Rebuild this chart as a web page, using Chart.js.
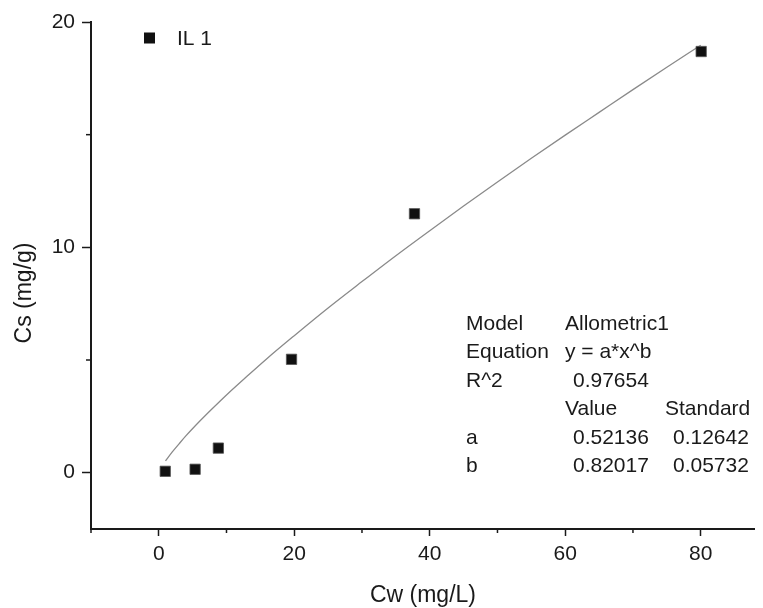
<!DOCTYPE html>
<html>
<head>
<meta charset="utf-8">
<script src="https://cdn.jsdelivr.net/npm/chart.js@4.4.1/dist/chart.umd.min.js"></script>
<style>
  html, body { margin: 0; padding: 0; background: #fff; }
  #wrap { position: relative; width: 763px; height: 608px; font-family: Arial, "Liberation Sans", sans-serif; color: #1a1a1a; }
  #fitTable { position: absolute; left: 0; top: 0; font-size: 21px; }
  #fitTable span { position: absolute; white-space: nowrap; line-height: 28px; }
</style>
</head>
<body>
<div id="wrap">
  <canvas id="chart" width="763" height="608"></canvas>
  <div id="fitTable"></div>
</div>
<script>
// measured points (Cw, Cs)
const cwData = [0.96, 5.37, 8.8, 19.6, 37.75, 80.07];
const csData = [0.06, 0.15, 1.09, 5.03, 11.49, 18.69];

// fitted curve
const fitX = [1, 2, 3, 4, 6, 8, 10, 13, 16, 20, 25, 30, 35, 40, 45, 50, 55, 60, 65, 70, 75, 80];
const fitY = [0.52, 0.92, 1.28, 1.63, 2.27, 2.87, 3.45, 4.27, 5.07, 6.08, 7.31, 8.48, 9.63, 10.74, 11.83, 12.9, 13.95, 14.98, 15.99, 17.0, 17.99, 18.97];

const seriesLabel = 'IL 1';
const xMinorTicks = [-10, 10, 30, 50, 70];
const yMinorTicks = [5, 15];

const tableRows = [
  ['Model', 'Allometric1', ''],
  ['Equation', 'y = a*x^b', ''],
  ['R^2', ' 0.97654', ''],
  ['', 'Value', 'Standard'],
  ['a', ' 0.52136', ' 0.12642'],
  ['b', ' 0.82017', ' 0.05732']
];

const ink = '#1a1a1a';
const fontFamily = 'Arial, "Liberation Sans", sans-serif';

// table as positioned text
const table = document.getElementById('fitTable');
const colLeft = [466, 565, 665];
tableRows.forEach((row, i) => {
  row.forEach((txt, j) => {
    if (!txt) return;
    const s = document.createElement('span');
    s.textContent = txt.trim();
    let left = colLeft[j];
    if (txt.startsWith(' ')) left += 8;
    s.style.left = left + 'px';
    s.style.top = (309 + i * 28.4) + 'px';
    table.appendChild(s);
  });
});

const extras = {
  id: 'extras',
  afterDraw(chart) {
    const ctx = chart.ctx;
    const xs = chart.scales.x, ys = chart.scales.y;
    const area = chart.chartArea;
    ctx.save();
    ctx.strokeStyle = ink;
    ctx.lineWidth = 1.5;
    // minor ticks
    xMinorTicks.forEach(v => {
      const px = xs.getPixelForValue(v);
      ctx.beginPath();
      ctx.moveTo(px, area.bottom);
      ctx.lineTo(px, area.bottom + 4);
      ctx.stroke();
    });
    yMinorTicks.forEach(v => {
      const py = ys.getPixelForValue(v);
      ctx.beginPath();
      ctx.moveTo(area.left, py);
      ctx.lineTo(area.left - 5, py);
      ctx.stroke();
    });
    // axis titles
    ctx.fillStyle = ink;
    ctx.font = '23px ' + fontFamily;
    ctx.textAlign = 'center';
    ctx.textBaseline = 'middle';
    ctx.fillText('Cw (mg/L)', (area.left + area.right) / 2, 596);
    ctx.translate(25, 293);
    ctx.rotate(-Math.PI / 2);
    ctx.fillText('Cs (mg/g)', 0, 0);
    ctx.restore();

    // legend
    ctx.save();
    ctx.fillStyle = '#111';
    ctx.fillRect(144, 32.5, 11, 11);
    ctx.fillStyle = ink;
    ctx.font = '21px ' + fontFamily;
    ctx.textAlign = 'left';
    ctx.textBaseline = 'middle';
    ctx.fillText(seriesLabel, 177, 39);
    ctx.restore();
  }
};

new Chart(document.getElementById('chart'), {
  type: 'scatter',
  data: {
    datasets: [
      {
        label: seriesLabel,
        data: cwData.map((x, i) => ({ x: x, y: csData[i] })),
        pointStyle: 'rect',
        pointRadius: 7.3,
        pointHoverRadius: 7.3,
        backgroundColor: '#111',
        borderColor: '#555',
        borderWidth: 0.8,
        order: 1
      },
      {
        label: 'fit',
        data: fitX.map((x, i) => ({ x: x, y: fitY[i] })),
        showLine: true,
        pointRadius: 0,
        borderColor: '#8a8a8a',
        borderWidth: 1.3,
        cubicInterpolationMode: 'monotone',
        order: 2
      }
    ]
  },
  options: {
    responsive: false,
    animation: false,
    devicePixelRatio: 1,
    layout: { padding: { top: 22, right: 5, left: 0, bottom: 0 } },
    plugins: { legend: { display: false }, tooltip: { enabled: false } },
    scales: {
      x: {
        type: 'linear',
        min: -10,
        max: 88,
        afterFit: s => { s.height = 79; },
        border: { color: ink, width: 2 },
        grid: { drawOnChartArea: false, drawTicks: true, tickLength: 7, tickWidth: 1.5, tickColor: ink },
        ticks: { stepSize: 20, includeBounds: false, color: ink, padding: 6, font: { family: fontFamily, size: 21 } }
      },
      y: {
        type: 'linear',
        min: -2.5,
        max: 20,
        afterFit: s => { s.width = 91; },
        border: { color: ink, width: 2 },
        grid: { drawOnChartArea: false, drawTicks: true, tickLength: 9, tickWidth: 1.5, tickColor: ink },
        ticks: { stepSize: 10, includeBounds: false, color: ink, padding: 7, font: { family: fontFamily, size: 21 } }
      }
    }
  },
  plugins: [extras]
});
</script>
</body>
</html>
